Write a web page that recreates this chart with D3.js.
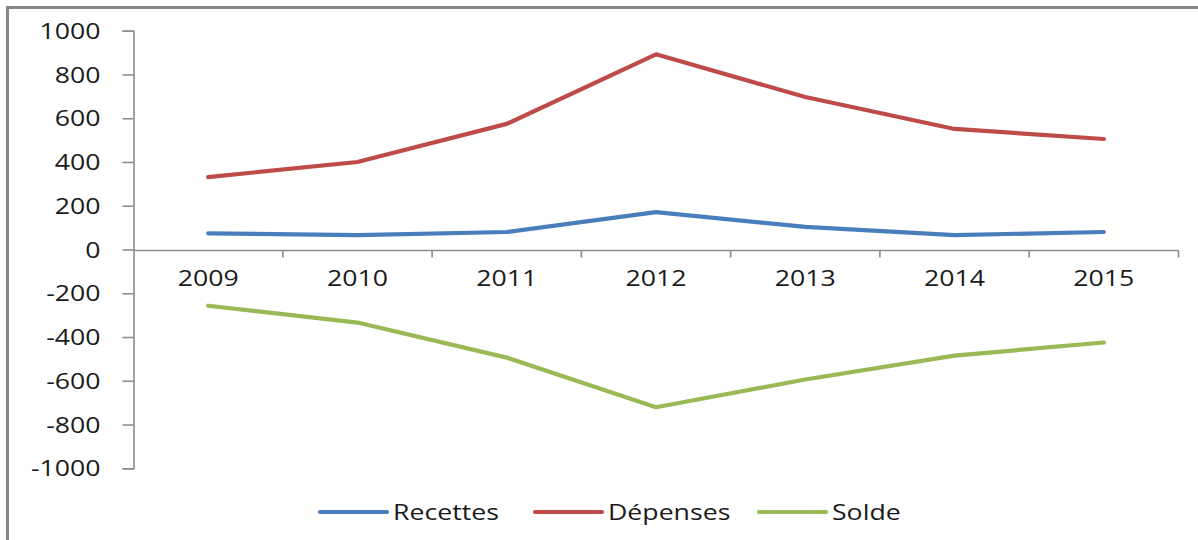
<!DOCTYPE html>
<html>
<head>
<meta charset="utf-8">
<script src="https://cdn.jsdelivr.net/npm/d3@7"></script>
<style>
  html, body { margin: 0; padding: 0; background: #fff; }
  svg { display: block; }
  text { font-family: "Open Sans", sans-serif; fill: #1a1a1a; }
</style>
</head>
<body>
<svg id="chart" width="1198" height="540"></svg>
<script>
// Budget series, 2009–2015
const years = ["2009", "2010", "2011", "2012", "2013", "2014", "2015"];
const recettes = [74, 66, 80, 171, 103, 66, 80];
const depenses = [331, 400, 574, 892, 697, 551, 505];
const solde = [-257, -334, -494, -721, -594, -485, -425];
const yTicks = [1000, 800, 600, 400, 200, 0, -200, -400, -600, -800, -1000];
const seriesNames = ["Recettes", "Dépenses", "Solde"];
const seriesColors = ["#4A7EBB", "#BE4B48", "#98B954"];

const series = [recettes, depenses, solde].map((values, i) => ({
  name: seriesNames[i], color: seriesColors[i], values
}));

const svg = d3.select("#chart");
const W = 1198, H = 540;
const plot = { left: 133.5, right: 1178.5, top: 30.7, bottom: 468.3 };
const stretch = 1.27; // wide lettering
const fontSize = 21;

// outer frame
svg.append("rect")
  .attr("x", 7.5).attr("y", 7.5)
  .attr("width", W + 20).attr("height", H + 20)
  .attr("fill", "#fff").attr("stroke", "#868686").attr("stroke-width", 3);

const x = d3.scaleBand().domain(years).range([plot.left, plot.right]).paddingInner(0).paddingOuter(0);
const y = d3.scaleLinear().domain([-1000, 1000]).range([plot.bottom, plot.top]);

const axisColor = "#8c8c8c";

// y axis
const yAxis = svg.append("g").attr("transform", `translate(${plot.left},0)`)
  .call(d3.axisLeft(y).tickValues(yTicks).tickSize(11).tickPadding(0).tickFormat(d3.format("d")));
yAxis.select(".domain").attr("stroke", axisColor).attr("stroke-width", 1.6);
yAxis.selectAll(".tick line").attr("stroke", axisColor).attr("stroke-width", 1.6);
yAxis.selectAll(".tick text").remove();
yAxis.selectAll(".tick").append("text")
  .attr("text-anchor", "end")
  .attr("dy", "0.36em")
  .attr("font-size", fontSize)
  .attr("transform", `translate(-33,0) scale(${stretch},1)`)
  .text(d => d3.format("d")(d).replace("−", "-"));

// x axis along zero, ticks at category boundaries
const y0 = Math.round(y(0)) + 0.5;
const xg = svg.append("g").attr("transform", `translate(0,${y0})`);
xg.append("line")
  .attr("x1", plot.left).attr("x2", plot.right)
  .attr("stroke", axisColor).attr("stroke-width", 1.6);
const boundaries = years.map(d => x(d)).concat([x(years[years.length - 1]) + x.bandwidth()]);
xg.selectAll("line.tk").data(boundaries.slice(1)).join("line").attr("class", "tk")
  .attr("x1", d => d).attr("x2", d => d).attr("y1", 0).attr("y2", 7)
  .attr("stroke", axisColor).attr("stroke-width", 1.6);
xg.selectAll("text").data(years).join("text")
  .attr("text-anchor", "middle")
  .attr("font-size", fontSize)
  .attr("transform", d => `translate(${x(d) + x.bandwidth() / 2},35) scale(${stretch},1)`)
  .text(d => d);

// series lines
const line = d3.line()
  .x((d, i) => x(years[i]) + x.bandwidth() / 2)
  .y(d => y(d));
svg.append("g").selectAll("path").data(series).join("path")
  .attr("d", s => line(s.values))
  .attr("fill", "none")
  .attr("stroke", s => s.color)
  .attr("stroke-width", 4.2)
  .attr("stroke-linecap", "round")
  .attr("stroke-linejoin", "round");

// legend
const legendY = 512;
const legendX = [320, 535, 759];
const lg = svg.append("g").selectAll("g").data(series).join("g")
  .attr("transform", (s, i) => `translate(${legendX[i]},${legendY})`);
lg.append("line")
  .attr("x1", 0).attr("x2", 67)
  .attr("stroke", s => s.color).attr("stroke-width", 4.2).attr("stroke-linecap", "round");
lg.append("text")
  .attr("font-size", fontSize)
  .attr("dy", "0.36em")
  .attr("transform", `translate(73,0) scale(${stretch},1)`)
  .text(s => s.name);
</script>
</body>
</html>
